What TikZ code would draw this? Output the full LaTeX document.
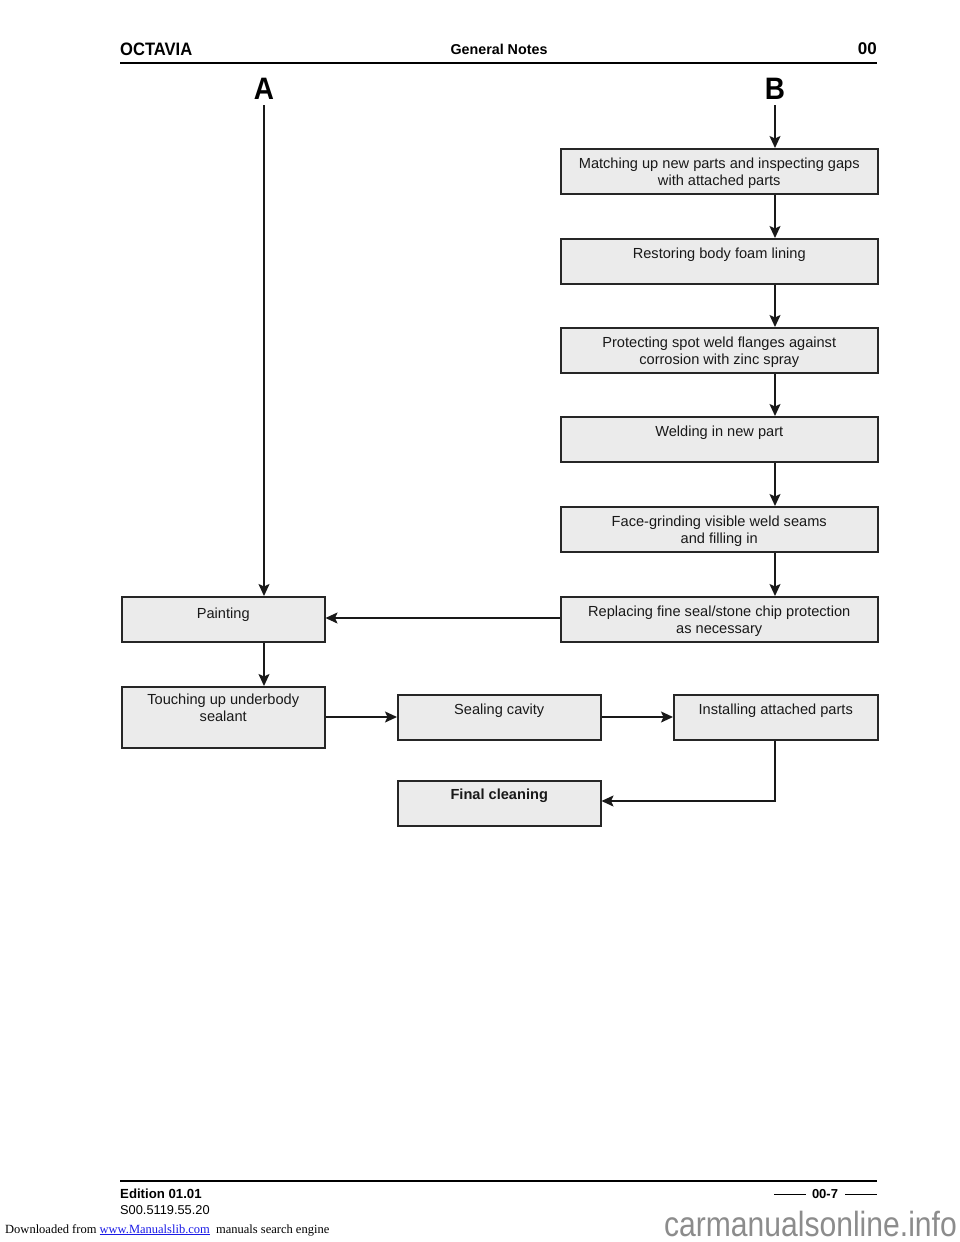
\documentclass[tikz,border=0pt]{standalone}
\usepackage{fontspec}
\setmainfont{Liberation Sans}
\newfontfamily\serifff{Liberation Serif}
\usetikzlibrary{arrows.meta}
\definecolor{boxfill}{HTML}{EBEBEB}
\definecolor{linkblue}{HTML}{1A1AE6}
\definecolor{wmgray}{HTML}{8C8C8C}
\begin{document}
\begin{tikzpicture}[x=1pt,y=-1pt,
  box/.style={draw=black!85,line width=1.5pt,fill=boxfill,inner sep=0pt,anchor=north west},
  boxtext/.style={anchor=north,align=center,font=\fontsize{14.6}{17}\selectfont,inner sep=0pt,text=black!90},
  conn/.style={line width=1.6pt,draw=black!90,-{Stealth[length=12pt,width=11pt,inset=2.5pt]}},
  plain/.style={line width=1.6pt}]
\useasboundingbox (0,0) rectangle (960,1242);
% header
\node[anchor=base west,inner sep=0pt,xscale=0.92,font=\fontsize{18}{20}\bfseries\selectfont] (hoct) at (120,55) {OCTAVIA};
\node[anchor=base,inner sep=0pt,font=\fontsize{14.3}{17}\bfseries\selectfont] (hgen) at (499,54) {General Notes};
\node[anchor=base east,inner sep=0pt,font=\fontsize{17}{20}\bfseries\selectfont] (hnum) at (877,54) {00};
\draw[line width=2pt] (120,63) -- (877,63);
% A and B
\node[inner sep=0pt,xscale=0.9,font=\fontsize{31}{32}\bfseries\selectfont] (A) at (264,89) {A};
\node[inner sep=0pt,xscale=0.9,font=\fontsize{31}{32}\bfseries\selectfont] (B) at (775,89) {B};
\coordinate (Astart) at (264,105);
\coordinate (Bstart) at (775,105);
% right column boxes
\node[box,minimum width=317pt,minimum height=45pt] (b1) at (560,148) {};
\node[boxtext] at ([yshift=-9.5pt]b1.north) {Matching up new parts and inspecting gaps\\with attached parts};
\node[box,minimum width=317pt,minimum height=45pt] (b2) at (560,238) {};
\node[boxtext] at ([yshift=-9.5pt]b2.north) {Restoring body foam lining};
\node[box,minimum width=317pt,minimum height=45pt] (b3) at (560,327) {};
\node[boxtext] at ([yshift=-9.5pt]b3.north) {Protecting spot weld flanges against\\corrosion with zinc spray};
\node[box,minimum width=317pt,minimum height=45pt] (b4) at (560,416) {};
\node[boxtext] at ([yshift=-9.5pt]b4.north) {Welding in new part};
\node[box,minimum width=317pt,minimum height=45pt] (b5) at (560,506) {};
\node[boxtext] at ([yshift=-9.5pt]b5.north) {Face-grinding visible weld seams\\and filling in};
\node[box,minimum width=317pt,minimum height=45pt] (b6) at (560,596) {};
\node[boxtext] at ([yshift=-9.5pt]b6.north) {Replacing fine seal/stone chip protection\\as necessary};
% left and bottom boxes
\node[box,minimum width=203pt,minimum height=45pt] (paint) at (121,596) {};
\node[boxtext] at ([yshift=-12pt]paint.north) {Painting};
\node[box,minimum width=203pt,minimum height=61pt] (touch) at (121,686) {};
\node[boxtext] at ([yshift=-8pt]touch.north) {Touching up underbody\\sealant};
\node[box,minimum width=203pt,minimum height=45pt] (seal) at (397,694) {};
\node[boxtext] at ([yshift=-10pt]seal.north) {Sealing cavity};
\node[box,minimum width=204pt,minimum height=45pt] (inst) at (673,694) {};
\node[boxtext] at ([yshift=-10pt]inst.north) {Installing attached parts};
\node[box,minimum width=203pt,minimum height=45pt] (final) at (397,780) {};
\node[boxtext,font=\fontsize{14.6}{17}\bfseries\selectfont] at ([yshift=-9pt]final.north) {Final cleaning};
% connectors
\draw[conn] (Bstart) -- (b1.north -| B);
\draw[conn] (b1.south -| B) -- (b2.north -| B);
\draw[conn] (b2.south -| B) -- (b3.north -| B);
\draw[conn] (b3.south -| B) -- (b4.north -| B);
\draw[conn] (b4.south -| B) -- (b5.north -| B);
\draw[conn] (b5.south -| B) -- (b6.north -| B);
\draw[conn] (Astart) -- (paint.north -| A);
\draw[conn] (b6.west |- 0,618) -- (paint.east |- 0,618);
\draw[conn] (paint.south -| A) -- (touch.north -| A);
\draw[conn] (touch.east |- 0,717) -- (seal.west |- 0,717);
\draw[conn] (seal.east |- 0,717) -- (inst.west |- 0,717);
\coordinate (bend) at (775,801);
\draw[conn] (inst.south -| bend) -- (bend) -- (final.east |- bend);
% footer
\draw[line width=2pt] (120,1181) -- (877,1181);
\node[anchor=base west,inner sep=0pt,font=\fontsize{13.2}{15}\bfseries\selectfont] (ed) at (120,1198) {Edition 01.01};
\node[anchor=base west,inner sep=0pt,font=\fontsize{12.8}{15}\selectfont] (code) at (120,1214) {S00.5119.55.20};
\node[anchor=base,inner sep=0pt,font=\fontsize{13}{15}\bfseries\selectfont] (pg) at (825,1198) {00-7};
\draw[line width=1pt] (774,1194) -- (806,1194);
\draw[line width=1pt] (845,1194) -- (877,1194);
\node[anchor=base west,inner sep=0pt,font=\serifff\fontsize{12.5}{14}\selectfont] (dl) at (5,1233) {Downloaded from \textcolor{linkblue}{\underline{www.Manualslib.com}}\enspace manuals search engine};
\node[anchor=base east,inner sep=0pt,xscale=0.86,text=wmgray,font=\fontsize{35}{38}\selectfont] (wm) at (957,1236) {carmanualsonline.info};
\end{tikzpicture}
\end{document}
